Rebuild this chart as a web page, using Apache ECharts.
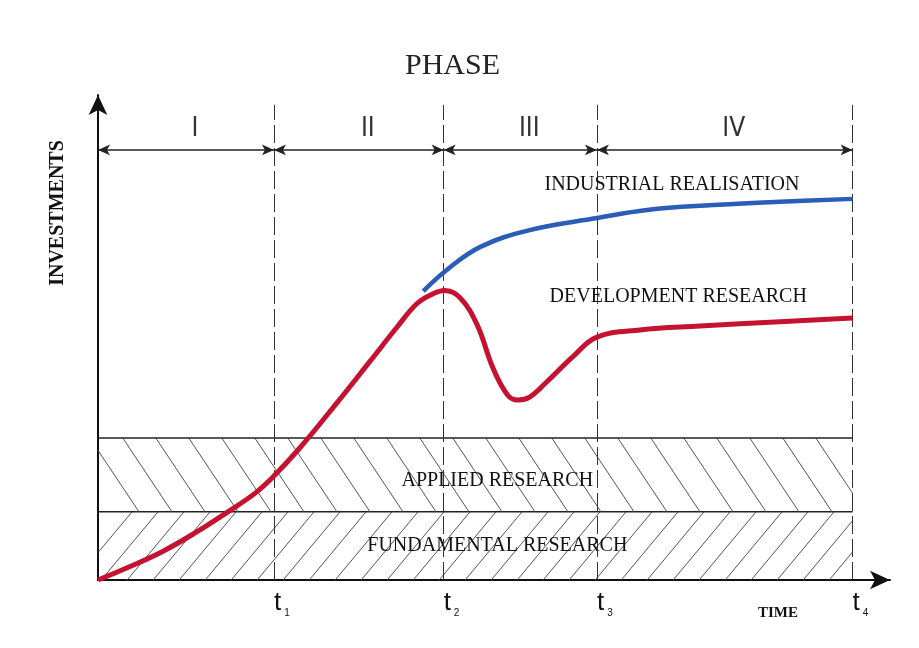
<!DOCTYPE html>
<html><head><meta charset="utf-8">
<script src="https://cdn.jsdelivr.net/npm/echarts@6/dist/echarts.min.js"></script>
<style>html,body{margin:0;padding:0;background:#fff}#c{width:919px;height:648px}</style>
</head><body><div id="c"></div>
<script>
// ---- data ----
const tPositions = [22.5, 44.2, 63.8, 96.5];
const tSubscripts = ['1', '2', '3', '4'];
const phaseNames = ['I', 'II', 'III', 'IV'];
const devX = [0, 3.8, 8.2, 12.4, 16.6, 20.1, 22.4, 25.8, 30.6, 34.8, 38.2, 40.8, 42.8, 44.3, 46.3, 48.5, 50.5, 52.4, 53.7, 55.2, 57.4, 60.7, 63.8, 69.3, 77.0, 87.2, 96.5];
const devY = [0, 2.6, 5.9, 9.8, 14.2, 18.1, 21.5, 27.5, 37.0, 45.6, 52.6, 57.6, 59.6, 60.3, 58.8, 53.1, 44.2, 38.5, 37.5, 38.1, 41.3, 46.5, 50.6, 52.1, 52.9, 53.8, 54.6];
const indX = [41.6, 44.6, 48.9, 55.2, 63.8, 70.2, 78.6, 87.2, 96.5];
const indY = [60.2, 64.6, 69.4, 72.9, 75.4, 77.1, 78.1, 78.8, 79.4];
const bandNames = ['FUNDAMENTAL RESEARCH', 'APPLIED RESEARCH'];
const bandLow = [0, 14.2];
const bandHigh = [14.2, 29.6];
const bandHatch = [1, -1];   // 1 = '/', -1 = '\'
const phaseLevel = 89.6;
const topLevel = 99;

const FONT = 'Liberation Serif';

const chart = echarts.init(document.getElementById('c'), null, {renderer: 'canvas'});

const bounds = [0].concat(tPositions);
const phaseLines = phaseNames.map((n, i) => [
  {coord: [bounds[i], phaseLevel], name: n},
  {coord: [bounds[i + 1], phaseLevel]}
]);
const dashLines = tPositions.map(t => [{coord: [t, 0]}, {coord: [t, topLevel]}]);

function bandRender(params, api) {
  const x0 = api.value(0), x1 = api.value(1), y0 = api.value(2), y1 = api.value(3);
  const dir = api.value(4), idx = api.value(5);
  const pTL = api.coord([x0, y1]);
  const pBR = api.coord([x1, y0]);
  const L = pTL[0], T = pTL[1], R = pBR[0], B = pBR[1];
  const h = B - T;
  const slope = dir > 0 ? 1.2 : 1.5;
  const gap = dir > 0 ? 26 : 33;
  const run = h / slope;
  const children = [];
  for (let xa = L - run + 8; xa < R; xa += gap) {
    let sx = xa, ex = xa + run;
    let sy = dir < 0 ? T : B, ey = dir < 0 ? B : T;
    const k = (ey - sy) / (ex - sx);
    if (sx < L) { sy += (L - sx) * k; sx = L; }
    if (ex > R) { ey -= (ex - R) * k; ex = R; }
    if (ex - sx < 10) continue;
    children.push({type: 'line', shape: {x1: sx, y1: sy, x2: ex, y2: ey},
      style: {stroke: '#555', lineWidth: 1}});
  }
  children.push({type: 'line', shape: {x1: L, y1: T, x2: R, y2: T},
    style: {stroke: '#222', lineWidth: 1.5}});
  children.push({type: 'text', style: {
    text: bandNames[idx], x: (L + R) / 2 + 22, y: (T + B) / 2 + (dir < 0 ? 6 : 0),
    align: 'center', verticalAlign: 'middle', fill: '#111',
    fontSize: 20, fontFamily: FONT
  }});
  return {type: 'group', children};
}

const option = {
  backgroundColor: '#fff',
  animation: false,
  title: {
    text: 'PHASE', left: 400, top: 46,
    textStyle: {fontFamily: FONT, fontSize: 30, fontWeight: 'normal', color: '#222'}
  },
  grid: {left: 98, right: 29, top: 95, bottom: 68},
  xAxis: {
    type: 'value', min: 0, max: 101.28,
    splitLine: {show: false}, axisTick: {show: false},
    axisLine: {lineStyle: {color: '#111', width: 2}, symbol: ['none', 'arrow'], symbolSize: [14, 20]},
    axisLabel: {
      customValues: tPositions, align: 'left', margin: 8,
      formatter: v => '{t|t}{s|' + tSubscripts[tPositions.indexOf(v)] + '}',
      rich: {
        t: {fontSize: 26, fontFamily: 'Liberation Sans', color: '#111', lineHeight: 30},
        s: {fontSize: 10, fontFamily: 'Liberation Sans', color: '#111', verticalAlign: 'bottom', padding: [0, 0, 0, 3]}
      }
    },
    name: 'TIME', nameLocation: 'end', nameGap: -112,
    nameTextStyle: {fontFamily: FONT, fontSize: 15, fontWeight: 'bold', color: '#111',
      align: 'center', verticalAlign: 'top', padding: [26, 0, 0, 0]}
  },
  yAxis: {
    type: 'value', min: 0, max: 101.04,
    splitLine: {show: false}, axisTick: {show: false}, axisLabel: {show: false},
    axisLine: {lineStyle: {color: '#111', width: 2}, symbol: ['none', 'arrow'], symbolSize: [14, 20]}
  },
  graphic: [{
    type: 'text', x: 58, y: 213, rotation: Math.PI / 2,
    style: {text: 'INVESTMENTS', align: 'center', verticalAlign: 'middle',
      fontFamily: FONT, fontSize: 20, fontWeight: 'bold', fill: '#111'}
  }],
  series: [
    {
      type: 'custom', name: 'bands', renderItem: bandRender, silent: true, z: 1,
      encode: {x: [0, 1], y: [2, 3]},
      data: bandNames.map((n, i) => [0, tPositions[3], bandLow[i], bandHigh[i], bandHatch[i], i])
    },
    {
      type: 'line', name: 'guides', data: [], silent: true, z: 2,
      markLine: {
        silent: true, symbol: ['none', 'none'], animation: false,
        lineStyle: {color: '#333', width: 1, type: [18, 5]},
        label: {show: false},
        data: dashLines
      }
    },
    {
      type: 'line', name: 'phases', data: [], silent: true, z: 3,
      markLine: {
        silent: true, symbol: ['arrow', 'arrow'], symbolSize: [8, 12], animation: false,
        lineStyle: {color: '#222', width: 1.5, type: 'solid'},
        label: {show: true, position: 'insideMiddleTop', formatter: '{b}', distance: 8, offset: [9, 0],
          fontFamily: 'Liberation Sans Narrow, DejaVu Sans Condensed, sans-serif', fontSize: 26, color: '#333'},
        data: phaseLines
      }
    },
    {
      type: 'line', name: 'INDUSTRIAL REALISATION', smooth: 0.4, showSymbol: false, z: 5,
      lineStyle: {color: '#2a5cb8', width: 4.5},
      data: indX.map((x, i) => [x, indY[i]]),
      markPoint: {
        symbol: 'circle', symbolSize: 0, silent: true,
        label: {show: true, formatter: 'INDUSTRIAL REALISATION', fontFamily: FONT, fontSize: 20, color: '#111'},
        data: [{coord: [73.4, 82.3]}]
      }
    },
    {
      type: 'line', name: 'DEVELOPMENT RESEARCH', smooth: 0.4, showSymbol: false, z: 6,
      lineStyle: {color: '#c41230', width: 5},
      data: devX.map((x, i) => [x, devY[i]]),
      markPoint: {
        symbol: 'circle', symbolSize: 0, silent: true,
        label: {show: true, formatter: 'DEVELOPMENT RESEARCH', fontFamily: FONT, fontSize: 20, color: '#111'},
        data: [{coord: [74.2, 59.0]}]
      }
    }
  ]
};
chart.setOption(option);
</script>
</body></html>
